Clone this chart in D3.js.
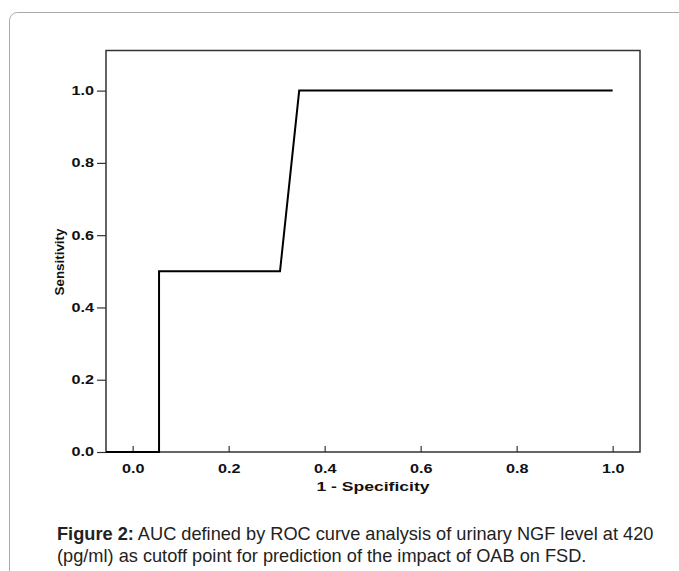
<!DOCTYPE html>
<html>
<head>
<meta charset="utf-8">
<script src="https://cdn.jsdelivr.net/npm/d3@7"></script>
<style>
body { margin: 0; background: #fff; }
svg { display: block; }
</style>
</head>
<body>
<svg width="679" height="571"></svg>
<script>
// ROC curve points
var specValues = [-0.0555, 0.055, 0.055, 0.307, 0.347, 1.0];
var sensValues = [0, 0, 0.5, 0.5, 1.0, 1.0];
var xTicks = [0, 0.2, 0.4, 0.6, 0.8, 1.0];
var yTicks = [0, 0.2, 0.4, 0.6, 0.8, 1.0];
var captionBold = "Figure 2:";
var captionLine1 = " AUC defined by ROC curve analysis of urinary NGF level at 420";
var captionLine2 = "(pg/ml) as cutoff point for prediction of the impact of OAB on FSD.";

var svg = d3.select("svg");
var stretch = 1.35; // the original chart text is widened

var plotLeft = 106, plotRight = 640, plotTop = 50.5, plotBottom = 452;
var font = "Liberation Sans, Arial, sans-serif";

// card border
svg.append("rect")
    .attr("x", 9.5).attr("y", 12.5)
    .attr("width", 700).attr("height", 600)
    .attr("rx", 8)
    .attr("fill", "none")
    .attr("stroke", "#aaa")
    .attr("stroke-width", 1);

var x = d3.scaleLinear().domain([-0.0555, 1.057]).range([plotLeft, plotRight]);
var y = d3.scaleLinear().domain([0, 1.111]).range([plotBottom, plotTop]);

// plot frame
svg.append("rect")
    .attr("x", plotLeft).attr("y", plotTop)
    .attr("width", plotRight - plotLeft).attr("height", plotBottom - plotTop)
    .attr("fill", "none")
    .attr("stroke", "#333")
    .attr("stroke-width", 1.5);

function widen(sel)
{
    sel.each(function()
    {
        var w = this.getComputedTextLength();
        d3.select(this).attr("textLength", w * stretch).attr("lengthAdjust", "spacingAndGlyphs");
    });
}

// x axis, ticks pointing up into the plot
var xaxis = d3.axisBottom(x).tickValues(xTicks).tickFormat(d3.format(".1f")).tickSizeInner(-6).tickSizeOuter(0).tickPadding(12);
var gx = svg.append("g").attr("transform", "translate(0," + plotBottom + ")").call(xaxis);
gx.select(".domain").remove();
gx.selectAll("line").attr("stroke", "#333").attr("stroke-width", 1.2);
gx.selectAll("text")
    .attr("font-family", font)
    .attr("font-weight", "bold")
    .attr("font-size", 12)
    .attr("fill", "#111")
    .call(widen);

// y axis
var yaxis = d3.axisLeft(y).tickValues(yTicks).tickFormat(d3.format(".1f")).tickSizeInner(9).tickSizeOuter(0).tickPadding(3);
var gy = svg.append("g").attr("transform", "translate(" + plotLeft + ",0)").call(yaxis);
gy.select(".domain").remove();
gy.selectAll("line").attr("stroke", "#333").attr("stroke-width", 1.2);
gy.selectAll("text")
    .attr("font-family", font)
    .attr("font-weight", "bold")
    .attr("font-size", 12)
    .attr("fill", "#111")
    .call(widen);

// curve
var pts = specValues.map(function(d, i) { return [d, sensValues[i]]; });
var line = d3.line().x(function(d) { return x(d[0]); }).y(function(d) { return y(d[1]); });
svg.append("path")
    .datum(pts)
    .attr("d", line)
    .attr("fill", "none")
    .attr("stroke", "#000")
    .attr("stroke-width", 2);

// axis titles
svg.append("text")
    .attr("x", (plotLeft + plotRight) / 2)
    .attr("y", 491)
    .attr("text-anchor", "middle")
    .attr("font-family", font)
    .attr("font-weight", "bold")
    .attr("font-size", 13)
    .attr("fill", "#111")
    .text("1 - Specificity")
    .call(widen);

svg.append("text")
    .attr("transform", "translate(64,262) rotate(-90)")
    .attr("text-anchor", "middle")
    .attr("font-family", font)
    .attr("font-weight", "bold")
    .attr("font-size", 13.4)
    .attr("fill", "#111")
    .text("Sensitivity");

// caption
var cap = svg.append("text")
    .attr("x", 57).attr("y", 540)
    .attr("font-family", font)
    .attr("font-size", 18.2)
    .attr("fill", "#222");
cap.append("tspan").attr("font-weight", "bold").text(captionBold);
cap.append("tspan").text(captionLine1);
svg.append("text")
    .attr("x", 57).attr("y", 562)
    .attr("font-family", font)
    .attr("font-size", 18.2)
    .attr("fill", "#222")
    .text(captionLine2);
</script>
</body>
</html>
